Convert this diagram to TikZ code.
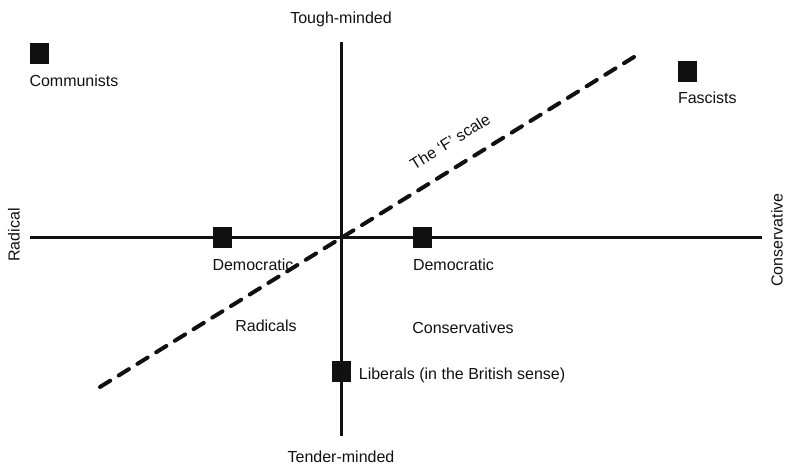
\documentclass[tikz,border=0pt]{standalone}
\usepackage{fontspec}
\setmainfont{Liberation Sans}
\usepackage{xcolor}
\definecolor{ink}{RGB}{17,17,17}
\usetikzlibrary{positioning}

\begin{document}
\begin{tikzpicture}[x=1pt,y=1pt,
  party/.style={rectangle,fill=ink,minimum width=19pt,minimum height=21pt,inner sep=0pt},
  tag/.style={font=\fontsize{16}{19}\selectfont,text=ink,inner sep=0pt},
  axis/.style={draw=ink,line width=3pt},
  fscale/.style={draw=ink,line width=4pt,line cap=round,dash pattern=on 12pt off 10pt},
]
  \useasboundingbox (0,0) rectangle (785,471);

  %% the two axes
  \coordinate (vtop)   at (341,429);
  \coordinate (vbot)   at (341,35);
  \coordinate (hleft)  at (30,233);
  \coordinate (hright) at (762,233);
  \draw[axis] (vtop) -- (vbot);
  \draw[axis] (hleft) -- (hright);

  \node[tag,above=15pt of vtop] (tough) {Tough-minded};
  \node[tag,below=15pt of vbot] (tender) {Tender-minded};
  \node[tag,rotate=90] (radical) at (14,236) {Radical};
  \node[tag,rotate=90] (conserv) at (777,231) {Conservative};

  %% F scale
  \coordinate (Flo) at (100,84);
  \coordinate (Fhi) at (634,414);
  \draw[fscale] (Flo) -- node[tag,pos=0.68,sloped,above=17pt] (fname) {The `F' scale} (Fhi);

  %% groups
  \foreach \nm/\x/\y/\lbl in {comm/39/417/Communists, fasc/687.5/399.5/Fascists,
                              demL/222/233/Democratic, demR/422.5/233/Democratic}{%
    \node[party] (\nm) at (\x,\y) {};
    \node[tag,below=10pt of \nm.south west,anchor=north west] (\nm-lbl) {\lbl};
  }
  \node[party] (lib) at (341,99) {};
  \node[tag,right=8pt of lib.east,anchor=west,yshift=-3pt] (lib-lbl) {Liberals (in the British sense)};

  \node[tag] (rads) at (266,145) {Radicals};
  \node[tag] (cons) at (463,143) {Conservatives};
\end{tikzpicture}
\end{document}
